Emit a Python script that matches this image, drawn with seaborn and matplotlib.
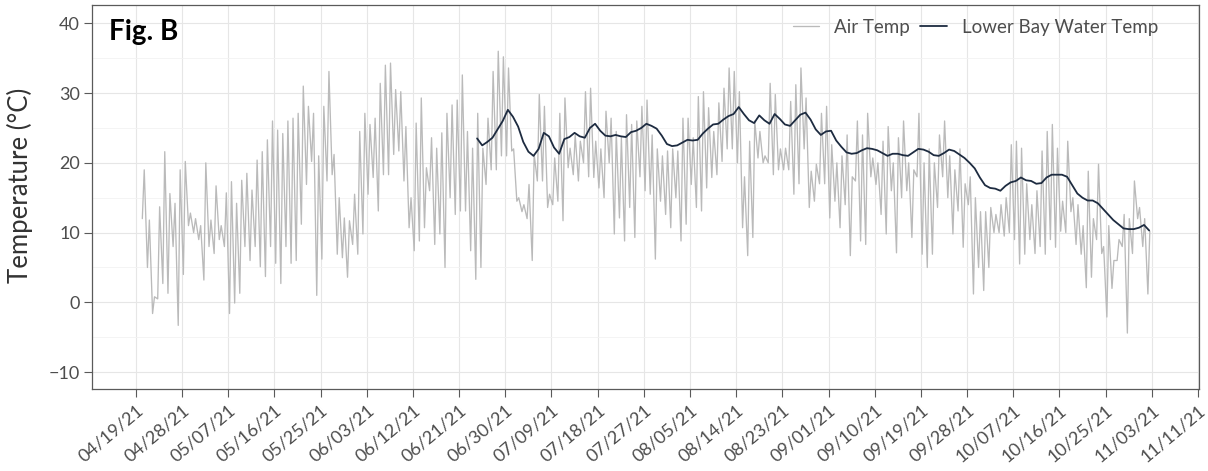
import pandas as pd
import matplotlib
matplotlib.use("Agg")
import matplotlib.pyplot as plt
import matplotlib.transforms as mtransforms
from matplotlib.ticker import MultipleLocator
import seaborn as sns

# air temp, one morning low and one afternoon high per day, 04/20/21 .. 11/02/21
air_low = [12, 5, -1.6, 0.5, 2.7, 1.3, 8, -3.3, 4, 11,
           10, 9, 3.2, 8, 7, 9, 8, -1.6, -0.1, 1.3,
           8, 6, 8, 5.1, 3.7, 8, 5.6, 2.7, 8, 5.6,
           6, 11.2, 16.9, 20.2, 1, 6.2, 17.4, 18.3, 6.9, 6.4,
           3.6, 8.3, 6.9, 9.8, 15.5, 17.9, 13.1, 18.3, 18.3, 21.2,
           21.7, 17.4, 10.7, 7.4, 8.8, 10.7, 16, 8.3, 9.8, 5,
           15, 12.6, 13.1, 13.1, 7.4, 3.3, 5, 16.9, 19, 19,
           21, 21, 21.7, 14.5, 13, 12, 6, 17.4, 17.4, 13.6,
           14, 14.5, 11.7, 19.3, 18.3, 17.4, 20, 18, 17.9, 16.4,
           15, 20, 9.8, 12.1, 8.8, 13.6, 9.3, 18, 16, 15.5,
           6.2, 14.5, 12.6, 10.7, 15, 8.8, 11.2, 16.9, 13.6, 13.1,
           16.4, 17.9, 18.3, 20.2, 22, 22, 20, 10.7, 6.7, 9.3,
           20.7, 20, 20, 18.3, 19, 19, 19, 15.5, 17, 22,
           13.6, 14.5, 17, 17, 12.1, 14.5, 10.7, 14, 6.7, 17.4,
           8.8, 8.3, 18, 16.9, 12.6, 9.8, 16, 7.1, 15, 16,
           9.3, 18, 6.9, 5, 6.9, 13.6, 18, 15, 9.8, 13.1,
           7.9, 14, 1.2, 5, 1.7, 5, 10, 10, 9.5, 10,
           9, 5.5, 6.9, 9, 7, 8, 6.9, 9, 7.9, 10.2,
           10, 13, 8.3, 6.9, 2.1, 3.6, 9, 7, -2.1, 2,
           6, 8, -4.4, 7, 12, 8, 1.2]
air_high = [19, 11.8, 0.8, 13.7, 21.6, 15.6, 14.2, 19, 20.2, 12.8,
            12, 11, 20, 11.8, 16.7, 11, 15.7, 17.3, 14.2, 17.5,
            18.5, 16.1, 20.4, 21.6, 23.3, 26, 24.7, 24.2, 26, 26.4,
            27.1, 31, 28.1, 27.1, 21, 28.1, 33.1, 21.2, 15, 12.1,
            11.7, 15.5, 24.5, 27.1, 25.5, 26.4, 31.4, 34, 34.3, 30.5,
            30.2, 25.2, 15, 25.7, 29.3, 19.3, 23.6, 22.1, 24.3, 27.1,
            28.3, 29, 32.6, 24.5, 22.1, 27.1, 22.1, 26.4, 33.1, 36,
            35.2, 33.6, 22, 15, 14, 16.9, 21.2, 29.8, 28.1, 15.5,
            20.7, 27.1, 29.3, 22.1, 24, 23.1, 30.2, 30.7, 23.1, 22,
            27.4, 26.4, 24.5, 23.6, 26.9, 25.5, 26, 28.1, 29, 24,
            22, 21, 21.7, 22, 21.7, 26.4, 26.4, 23.6, 29.5, 30.2,
            27.9, 24.5, 28.6, 30.7, 33.6, 33.1, 30.2, 18, 23.1, 26,
            24.5, 21, 31.4, 29.8, 22, 22.1, 28.8, 31.2, 33.6, 29.3,
            18.8, 19.8, 27.1, 28.1, 22.6, 20, 21, 24, 18, 26,
            24, 27.1, 20.7, 20, 23.1, 25.2, 20, 23.6, 26, 20,
            19, 27.1, 20, 22, 20, 24, 26, 21, 19, 22,
            17, 18, 15, 13, 13, 13.6, 12.6, 14, 15, 22.6,
            23.1, 22.1, 17, 14, 16, 21.7, 24.5, 25.5, 22.1, 14.5,
            23.1, 15, 14, 11, 18.8, 12, 19.8, 8, 11, 6,
            9, 12.6, 12, 17.4, 13.6, 12, 10.2]

# lower bay water temp, daily (noon), 06/24/21 .. 11/02/21
water = [23.5, 22.5, 23.0, 23.6, 24.8, 26.0, 27.6, 26.6, 25.2, 23.0,
         21.6, 21.0, 22.0, 24.3, 23.8, 22.2, 21.3, 23.4, 23.7, 24.3,
         23.8, 23.6, 25.0, 25.6, 24.6, 23.9, 23.8, 24.0, 23.8, 23.7,
         24.4, 24.6, 25.0, 25.6, 25.3, 24.9, 23.9, 22.7, 22.4, 22.5,
         22.9, 23.3, 23.2, 23.3, 24.2, 24.9, 25.5, 25.6, 26.2, 26.7,
         27.0, 28.0, 27.0, 26.1, 25.7, 26.8, 26.1, 25.6, 27.0, 26.3,
         25.5, 25.3, 26.1, 26.9, 27.2, 26.2, 24.8, 24.0, 24.5, 24.6,
         23.2, 22.3, 21.5, 21.3, 21.4, 21.8, 22.1, 22.0, 21.8, 21.4,
         21.0, 21.3, 21.3, 21.1, 21.0, 21.5, 22.0, 21.9, 21.6, 21.1,
         21.0, 21.4, 21.9, 21.7, 21.2, 20.7, 20.0, 19.2, 17.9, 16.8,
         16.4, 16.3, 16.0, 16.7, 17.2, 17.4, 17.9, 17.5, 17.4, 17.0,
         17.1, 17.9, 18.3, 18.3, 18.3, 18.0, 16.8, 15.6, 15.0, 14.6,
         14.6, 14.2, 13.4, 12.6, 11.8, 11.2, 10.6, 10.5, 10.5, 10.7,
         11.1, 10.3]

tick_labels = ["04/19/21", "04/28/21", "05/07/21", "05/16/21", "05/25/21", "06/03/21",
               "06/12/21", "06/21/21", "06/30/21", "07/09/21", "07/18/21", "07/27/21",
               "08/05/21", "08/14/21", "08/23/21", "09/01/21", "09/10/21", "09/19/21",
               "09/28/21", "10/07/21", "10/16/21", "10/25/21", "11/03/21", "11/11/21"]

# build the time axis
air_days = pd.date_range("2021-04-20", periods=len(air_low), freq="D")
air_time, air_vals = [], []
for day, lo, hi in zip(air_days, air_low, air_high):
    air_time += [day + pd.Timedelta(hours=6), day + pd.Timedelta(hours=15)]
    air_vals += [lo, hi]
air_df = pd.DataFrame({"time": air_time, "temp": air_vals})

water_df = pd.DataFrame({
    "time": pd.date_range("2021-06-24 12:00", periods=len(water), freq="D"),
    "temp": water,
})

# 9 day breaks (last one lands on 11/11 23:00 after the DST change)
tick_pos = pd.date_range("2021-04-19", periods=len(tick_labels), freq="9D")
tick_pos = tick_pos[:-1].append(pd.DatetimeIndex([tick_pos[-1] - pd.Timedelta(hours=1)]))

sns.set_theme(style="whitegrid")
plt.rcParams["font.family"] = ["Lato", "DejaVu Sans"]

fig = plt.figure(figsize=(12.08, 4.71), dpi=100)
ax = fig.add_axes([0.0764, 0.1735, 0.9161, 0.8155])

sns.lineplot(data=air_df, x="time", y="temp", color="#bababa", linewidth=0.95,
             estimator=None, sort=False, label="Air Temp", ax=ax)
sns.lineplot(data=water_df, x="time", y="temp", color="#1d2b40", linewidth=1.3,
             estimator=None, sort=False, label="Lower Bay Water Temp", ax=ax)

ax.set_xlim(pd.Timestamp("2021-04-19") - pd.Timedelta(days=8.5),
            pd.Timestamp("2021-04-19") + pd.Timedelta(days=207.2))
ax.set_ylim(-12.46, 42.6)

ax.set_xticks(tick_pos)
ax.set_xticklabels(tick_labels, rotation=40, ha="right", va="top", rotation_mode="anchor")
shift = mtransforms.ScaledTranslation(10 / 100, -16 / 100, fig.dpi_scale_trans)
for lab in ax.get_xticklabels():
    lab.set_transform(lab.get_transform() + shift)
ax.set_yticks([-10, 0, 10, 20, 30, 40])
ax.yaxis.set_minor_locator(MultipleLocator(5))

ax.grid(which="major", color="#e6e6e6", linewidth=0.8)
ax.grid(which="minor", axis="y", color="#f2f2f2", linewidth=0.6)
ax.set_axisbelow(True)
for sp in ax.spines.values():
    sp.set_color("#5a5a5a")
    sp.set_linewidth(0.9)

ax.tick_params(axis="both", which="major", direction="out", length=5.5, width=0.8,
               color="#5a5a5a", labelcolor="#4d4d4d", bottom=True, left=True)
ax.tick_params(axis="y", which="major", labelsize=13)
ax.tick_params(axis="x", which="major", labelsize=13)
ax.tick_params(axis="both", which="minor", length=0)

ax.set_xlabel("")
ax.set_ylabel("Temperature (°C)", fontsize=18.5, color="#333333")
ax.yaxis.set_label_coords(-0.0535, 0.53)

ax.text(0.015, 0.963, "Fig. B", transform=ax.transAxes, fontsize=20,
        fontweight="bold", color="black", ha="left", va="top")

leg = ax.legend(loc="center right", bbox_to_anchor=(0.963, 0.943), ncol=2,
                frameon=False, fontsize=13.5, handlelength=1.4, handletextpad=0.8,
                columnspacing=0.55, borderaxespad=0, borderpad=0)
for t in leg.get_texts():
    t.set_color("#4d4d4d")

plt.savefig("out.png", dpi=100)
